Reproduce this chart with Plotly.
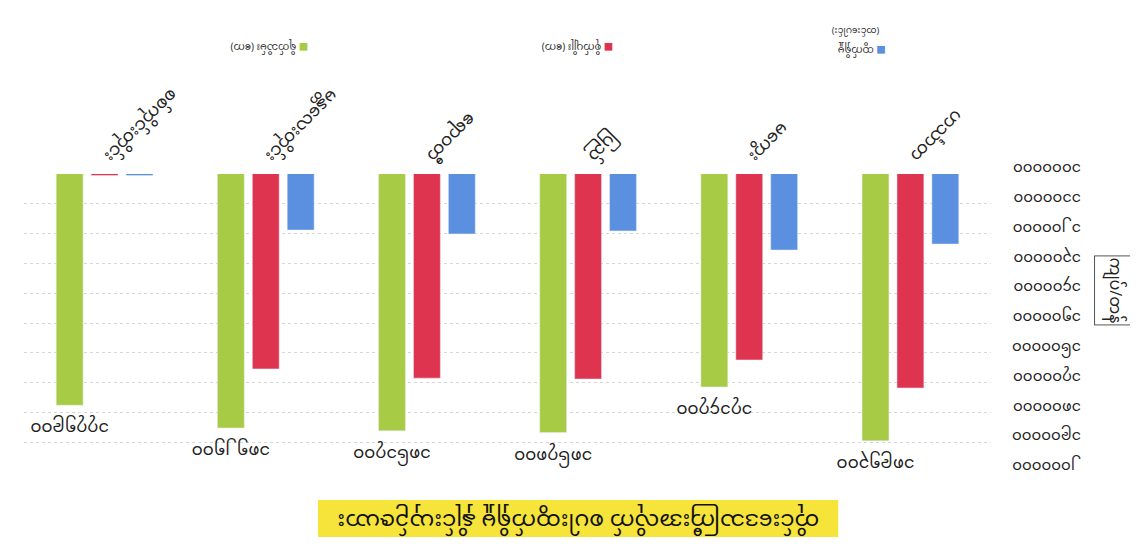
import plotly.graph_objects as go

categories = ["စစ်ကိုင်းတိုင်း", "မန္တလေးတိုင်း", "ဧရာဝတီ", "ပြည်", "မကွေး", "ဟင်္သာတ"]
series_names = ["ရိတ်သိမ်း (ဧက)", "စိုက်ပျိုး (ဧက)", "ထွက်ရှိမှု (တင်းပေါင်း)"]
green_values = [1775900, 1852500, 1861700, 1867800, 1714700, 1895300]
red_values = [1005000, 1654000, 1685000, 1688000, 1624000, 1718000]
blue_values = [1005000, 1188000, 1201000, 1191000, 1255000, 1235000]
tick_values = [1000000, 1100000, 1200000, 1300000, 1400000, 1500000,
               1600000, 1700000, 1800000, 1900000, 2000000]
tick_labels = ["၁၀၀၀၀၀၀", "၁၁၀၀၀၀၀", "၁၂၀၀၀၀၀", "၁၃၀၀၀၀၀", "၁၄၀၀၀၀၀", "၁၅၀၀၀၀၀",
               "၁၆၀၀၀၀၀", "၁၇၀၀၀၀၀", "၁၈၀၀၀၀၀", "၁၉၀၀၀၀၀", "၂၀၀၀၀၀၀"]
title_text = "တိုင်းဒေသကြီးအလိုက် စပါးထွက်ရှိမှု နှိုင်းယှဉ်ဇယား"
y_title = "ကျပ်/တန်"

colors = ["#a8cb45", "#de3450", "#5b8fe0"]
FONT = "Noto Sans Myanmar, Padauk, Myanmar Text, Noto Sans, DejaVu Sans, sans-serif"

MY_DIGITS = str.maketrans("0123456789", "၀၁၂၃၄၅၆၇၈၉")


def my_num(v):
    return str(int(v)).translate(MY_DIGITS)


fig = go.Figure()
fig.add_trace(go.Bar(x=categories, y=green_values, name=series_names[0],
                     marker_color=colors[0],
                     text=[my_num(v) for v in green_values],
                     textposition="outside", textangle=180, constraintext="none",
                     textfont=dict(size=17, color="#222222", family=FONT),
                     cliponaxis=False))
fig.add_trace(go.Bar(x=categories, y=red_values, name=series_names[1],
                     marker_color=colors[1]))
fig.add_trace(go.Bar(x=categories, y=blue_values, name=series_names[2],
                     marker_color=colors[2]))

fig.update_layout(
    width=1130, height=536, autosize=False,
    paper_bgcolor="white", plot_bgcolor="white",
    barmode="group", bargap=0.35, bargroupgap=0.23,
    showlegend=False,
    margin=dict(l=16, r=147, t=166, b=72),
    font=dict(family=FONT, color="#222222"),
    xaxis=dict(side="top", tickangle=135, showline=False, showgrid=False,
               ticks="", tickfont=dict(size=17, family=FONT), ticklabelshift=5),
    yaxis=dict(side="right", range=[2000000, 1000000], tickvals=tick_values,
               ticktext=tick_labels, tickangle=180,
               showgrid=True, gridcolor="#d6d6d6", griddash="dot", gridwidth=1,
               zeroline=False, showline=False, ticks="",
               tickfont=dict(size=15, family=FONT), ticklabelstandoff=89),
    shapes=[dict(type="rect", xref="paper", yref="paper",
                 x0=0.304, x1=0.842, y0=-0.218, y1=-0.094,
                 fillcolor="#f6e43a", line=dict(width=0), layer="below")],
)

# legend entries (drawn upside down like the scan; marker ends up on the right)
legend_single = [(0.254, 1.43), (0.572, 1.43)]
for name, col, (lx, ly) in zip(series_names[:2], colors[:2], legend_single):
    fig.add_annotation(xref="paper", yref="paper", x=lx, y=ly, showarrow=False,
                       xanchor="center", yanchor="middle", textangle=180,
                       text=f"<span style='color:{col}'>■</span> {name}",
                       font=dict(size=10, family=FONT, color="#333333"))

# third legend entry wraps onto two lines
main_part, paren_part = series_names[2].split(" ", 1)
fig.add_annotation(xref="paper", yref="paper", x=0.866, y=1.42, showarrow=False,
                   xanchor="center", yanchor="middle", textangle=180,
                   text=f"<span style='color:{colors[2]}'>■</span> {main_part}",
                   font=dict(size=10, family=FONT, color="#333333"))
fig.add_annotation(xref="paper", yref="paper", x=0.86, y=1.485, showarrow=False,
                   xanchor="center", yanchor="middle", textangle=180,
                   text=paren_part,
                   font=dict(size=9, family=FONT, color="#333333"))

# y-axis title, boxed, rotated
fig.add_annotation(xref="paper", yref="paper", x=1.127, y=0.61, showarrow=False,
                   xanchor="center", yanchor="middle",
                   textangle=90, text=y_title,
                   font=dict(size=16, family=FONT, color="#222222"),
                   bordercolor="#555555", borderwidth=1, borderpad=1)

# chart title on the yellow box at the bottom (upside down)
fig.add_annotation(xref="paper", yref="paper", x=0.573, y=-0.156, showarrow=False,
                   xanchor="center", yanchor="middle",
                   textangle=180, text=title_text,
                   font=dict(size=22, family=FONT, color="#111111"))

fig.write_html("out.html")
